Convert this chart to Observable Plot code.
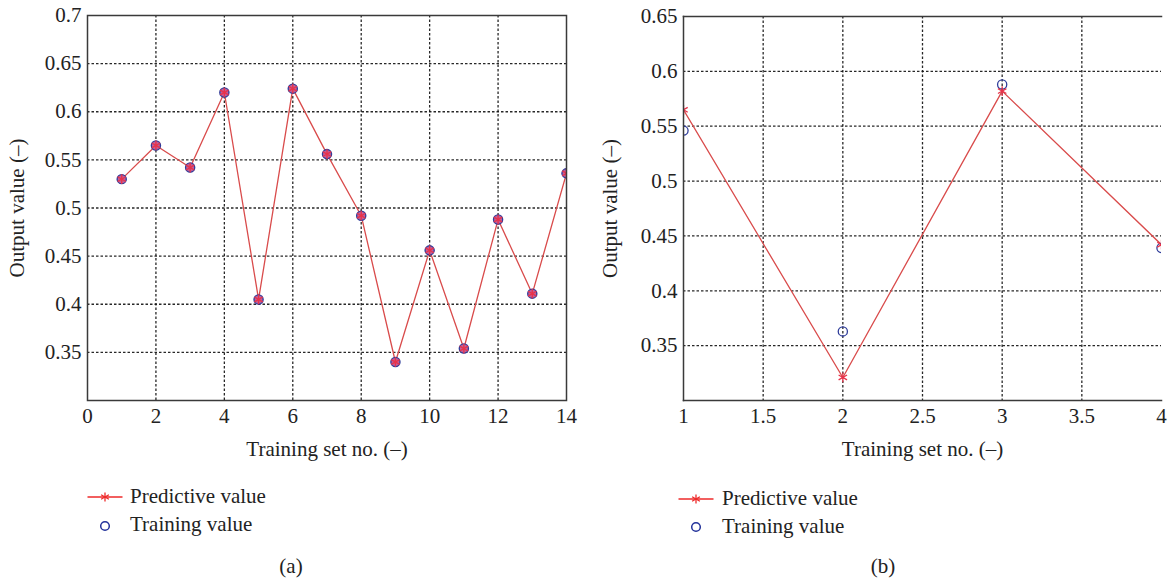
<!DOCTYPE html>
<html><head><meta charset="utf-8">
<script src="https://cdn.jsdelivr.net/npm/d3@7"></script>
<script src="https://cdn.jsdelivr.net/npm/@observablehq/plot@0.6"></script>
<style>
html,body{margin:0;padding:0;background:#fff;overflow:hidden}
#wrap{position:relative;width:1169px;height:582px;overflow:hidden;background:#fff;font-family:"Liberation Serif","Times New Roman",Times,"DejaVu Serif",serif;color:#222}
.panel{position:absolute;top:0}
.panel text{font-family:"Liberation Serif","Times New Roman",Times,"DejaVu Serif",serif !important;font-variant-numeric:normal !important}
.txt{position:absolute;font-size:21px;line-height:20px;white-space:nowrap;color:#222}
.sym{position:absolute;overflow:visible}
</style></head><body><div id="wrap"></div>
<script>
// ---- data ----
const seriesNames = ["Predictive value", "Training value"];
const xLabel = "Training set no. (–)";
const yLabel = "Output value (–)";

const leftX = [1,2,3,4,5,6,7,8,9,10,11,12,13,14];
const leftPred  = [0.530,0.565,0.542,0.620,0.405,0.624,0.556,0.492,0.340,0.456,0.354,0.488,0.411,0.536];
const leftTrain = [0.530,0.565,0.542,0.620,0.405,0.624,0.556,0.492,0.340,0.456,0.354,0.488,0.411,0.536];
const leftXTicks = [0,2,4,6,8,10,12,14];
const leftYTicks = [0.35,0.4,0.45,0.5,0.55,0.6,0.65,0.7];
const leftXGrid = [2,4,6,8,10,12];
const leftYGrid = [0.35,0.4,0.45,0.5,0.55,0.6,0.65];

const rightX = [1,2,3,4];
const rightPred  = [0.565,0.321,0.582,0.442];
const rightTrain = [0.546,0.363,0.588,0.439];
const rightXTicks = [1,1.5,2,2.5,3,3.5,4];
const rightYTicks = [0.35,0.4,0.45,0.5,0.55,0.6,0.65];
const rightXGrid = [1.5,2,2.5,3,3.5];
const rightYGrid = [0.35,0.4,0.45,0.5,0.55,0.6];

const captions = ["(a)", "(b)"];

// ---- style ----
const FONT = '"Liberation Serif","Times New Roman",Times,"DejaVu Serif",serif';
const FS = 21;
const lineColor = "#d94b4b";
const starColor = "#e8334a";
const circColor = "#2f3d9a";
const gridStyle = {stroke:"#111", strokeWidth:1.3, strokeDasharray:"2.5,2", strokeOpacity:0.9};
const fmt = d => String(d);

function panel(cfg){
  const pred = cfg.x.map((x,i)=>({x, y:cfg.pred[i]}));
  const train = cfg.x.map((x,i)=>({x, y:cfg.train[i]}));
  const marks = [
    Plot.ruleX(cfg.xGrid, {...gridStyle}),
    Plot.ruleY(cfg.yGrid, {...gridStyle}),
    Plot.axisX({ticks: cfg.xTicks, tickFormat: fmt, tickSize:0, tickPadding:8, fontSize:FS, fontFamily:FONT, label:xLabel, labelAnchor:"center", labelOffset:cfg.xLabelOffset, labelArrow:"none"}),
    Plot.axisY({ticks: cfg.yTicks, tickFormat: fmt, tickSize:0, tickPadding:6, fontSize:FS, fontFamily:FONT, label:yLabel, labelAnchor:"center", labelOffset:cfg.yLabelOffset, labelArrow:"none"}),
    Plot.line(pred, {x:"x", y:"y", stroke:lineColor, strokeWidth:1.3, clip:true}),
    Plot.dot(train, {x:"x", y:"y", r:4.6, symbol:"circle", stroke:circColor, strokeWidth:1.3, fill: cfg.fillCircles ? "#c15e98" : "none", clip:true}),
    Plot.dot(pred, {x:"x", y:"y", r:4.6, symbol:"asterisk", stroke:starColor, strokeWidth:1.3, clip:true})
  ];
  if (cfg.fullFrame) {
    marks.push(Plot.frame({stroke:"#3a3a3a", strokeWidth:1.5}));
  } else {
    marks.push(Plot.frame({anchor:"left", stroke:"#3a3a3a", strokeWidth:1.5}));
    marks.push(Plot.frame({anchor:"top", stroke:"#3a3a3a", strokeWidth:1.5}));
    marks.push(Plot.frame({anchor:"bottom", stroke:"#3a3a3a", strokeWidth:1.5}));
  }
  const svg = Plot.plot({
    width: cfg.width, height: 460,
    marginLeft: cfg.ml, marginRight: cfg.mr, marginTop: cfg.mt, marginBottom: 60,
    x: {domain: cfg.xDomain},
    y: {domain: cfg.yDomain},
    style: {fontFamily: FONT, fontSize: FS + "px", color:"#222", background:"transparent", overflow:"visible"},
    marks
  });
  svg.classList.add("panel");
  svg.style.left = cfg.left + "px";
  return svg;
}

const wrap = document.getElementById("wrap");
wrap.appendChild(panel({left:0, width:584, ml:87, mr:18, mt:15, x:leftX, pred:leftPred, train:leftTrain,
  xTicks:leftXTicks, yTicks:leftYTicks, xGrid:leftXGrid, yGrid:leftYGrid, xDomain:[0,14], yDomain:[0.3,0.7],
  xLabelOffset:55, yLabelOffset:78, fillCircles:true, fullFrame:true}));
wrap.appendChild(panel({left:584, width:600, ml:99, mr:23, mt:16, x:rightX, pred:rightPred, train:rightTrain,
  xTicks:rightXTicks, yTicks:rightYTicks, xGrid:rightXGrid, yGrid:rightYGrid, xDomain:[1,4], yDomain:[0.3,0.65],
  xLabelOffset:55, yLabelOffset:81, fillCircles:false, fullFrame:false}));

// ---- legends & captions ----
const NS = "http://www.w3.org/2000/svg";
function addText(str, x, yc, anchorCenter){
  const d = document.createElement("div");
  d.className = "txt"; d.textContent = str;
  d.style.top = (yc - 10) + "px";
  d.style.left = x + "px";
  if (anchorCenter) d.style.transform = "translateX(-50%)";
  wrap.appendChild(d);
}
function addSym(cx, cy, kind){
  const s = document.createElementNS(NS, "svg");
  s.setAttribute("class","sym"); s.setAttribute("width",40); s.setAttribute("height",16);
  s.style.left = (cx - 20) + "px"; s.style.top = (cy - 8) + "px";
  if (kind === "star") {
    s.innerHTML = `<line x1="2.5" y1="8" x2="37.5" y2="8" stroke="#ee2a2a" stroke-width="1.4"/>
      <g stroke="#ee2a2a" stroke-width="1.3"><line x1="20" y1="3.5" x2="20" y2="12.5"/>
      <line x1="16.1" y1="5.75" x2="23.9" y2="10.25"/><line x1="16.1" y1="10.25" x2="23.9" y2="5.75"/></g>`;
  } else {
    s.innerHTML = `<circle cx="20" cy="8" r="4.3" fill="none" stroke="#22319a" stroke-width="1.5"/>`;
  }
  wrap.appendChild(s);
}
addSym(104.5, 497, "star"); addText(seriesNames[0], 130, 496);
addSym(104.5, 526, "circle"); addText(seriesNames[1], 130, 524);
addSym(695.5, 499, "star"); addText(seriesNames[0], 722, 498);
addSym(695.5, 527, "circle"); addText(seriesNames[1], 722, 526);
addText(captions[0], 291, 566, true);
addText(captions[1], 883, 566, true);
</script>
</body></html>
